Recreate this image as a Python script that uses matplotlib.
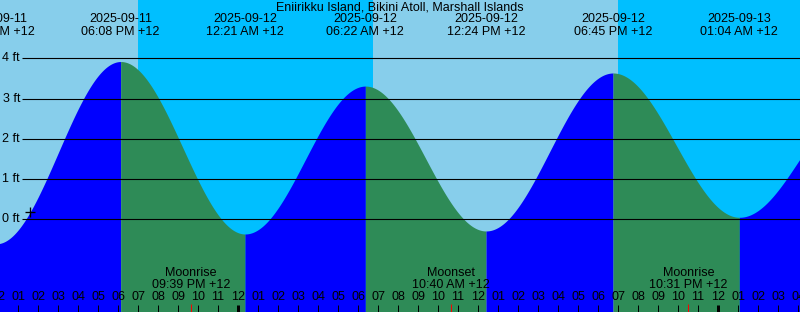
import numpy as np
import matplotlib
matplotlib.use("Agg")
import matplotlib.pyplot as plt

plt.rcParams['font.family'] = ['Liberation Sans', 'DejaVu Sans']

# hours counted from 2025-09-12 00:00 (+12)
tide_hours = [-12.1, -5.867, 0.35, 6.367, 12.4, 18.75, 25.067, 31.2]
tide_ft = [-0.61, 3.92, -0.365, 3.31, -0.29, 3.635, 0.05, 3.0]
tide_dates = ['2025-09-11', '2025-09-11', '2025-09-12', '2025-09-12',
              '2025-09-12', '2025-09-12', '2025-09-13', '2025-09-13']
tide_times = ['11:54 AM +12', '06:08 PM +12', '12:21 AM +12', '06:22 AM +12',
              '12:24 PM +12', '06:45 PM +12', '01:04 AM +12', '07:12 AM +12']

sunsets = [-5.0, 19.0]
sunrises = [6.75, 30.75]

moon_hours = [-2.35, 10.667, 22.517]
moon_names = ['Moonrise', 'Moonset', 'Moonrise']
moon_times = ['09:39 PM +12', '10:40 AM +12', '10:31 PM +12']

ft_levels = [0, 1, 2, 3, 4]
now_hour, now_ft = -10.4, 0.19

title = 'Eniirikku Island, Bikini Atoll, Marshall Islands'

x0, x1 = -11.9, 28.1
fs = 9.0
px = 0.72  # one pixel in points


def ypix(py):
    # pixel row -> feet
    return (219.3 - py) / 40.25


def xpix(pxl):
    return (pxl - 238.0) / 20.0


fig = plt.figure(figsize=(8, 3.12), dpi=100)
ax = fig.add_axes([0, 0, 1, 1])
ax.set_xlim(x0, x1)
ax.set_ylim(ypix(312), ypix(0))
ax.axis('off')

# day / night
ax.axvspan(x0, x1, color='#87CEEB', lw=0, zorder=0)
for s, r in zip(sunsets, sunrises):
    ax.axvspan(s, r, color='#00BFFF', lw=0, zorder=0.5)

# tide curve, split into rising / falling pieces
for i in range(len(tide_hours) - 1):
    ta, tb = tide_hours[i], tide_hours[i + 1]
    ha, hb = tide_ft[i], tide_ft[i + 1]
    t = np.linspace(ta, tb, 200)
    h = ha + (hb - ha) * (1 - np.cos(np.pi * (t - ta) / (tb - ta))) / 2
    col = '#0000FF' if hb > ha else '#2E8B57'
    ax.fill_between(t, ypix(312), h, color=col, lw=0, zorder=1)

# depth lines
ax.hlines(ft_levels, xpix(22), x1, color='black', lw=px * 1.1, zorder=2)
for lv in ft_levels:
    ax.text(xpix(20), lv, f'{lv} ft', ha='right', va='center', fontsize=fs, zorder=3)

ax.plot(now_hour, now_ft, marker='+', ms=7, mew=px * 1.3, color='black', zorder=3)

# tide event labels (only those that reach into the chart)
for t, d, tm in zip(tide_hours, tide_dates, tide_times):
    if t > x1 + 1.5:
        continue
    ax.text(t, ypix(19.5), d, ha='center', va='center', fontsize=fs, zorder=3)
    ax.text(t, ypix(32), tm, ha='center', va='center', fontsize=fs, zorder=3)

fig.text(0.5, 1 - 7.5 / 312, title, ha='center', va='center', fontsize=fs)

# hour ticks and labels
hours = np.arange(-12, 29)
for hr in hours:
    ax.text(hr, ypix(297), f'{(hr - 1) % 12 + 1:02d}', ha='center', va='center',
            fontsize=fs, zorder=3)
    thick = hr % 24 == 0
    ax.vlines(hr, ypix(312), ypix(304.5), color='black',
              lw=px * (3 if thick else 1), zorder=3)

# moon events
for t, nm, tm in zip(moon_hours, moon_names, moon_times):
    ax.vlines(t, ypix(312), ypix(304), color='red', lw=px, zorder=3)
    ax.text(t, ypix(273.5), nm, ha='center', va='center', fontsize=fs, zorder=3)
    ax.text(t, ypix(285.5), tm, ha='center', va='center', fontsize=fs, zorder=3)

fig.savefig('out.png', dpi=100)
